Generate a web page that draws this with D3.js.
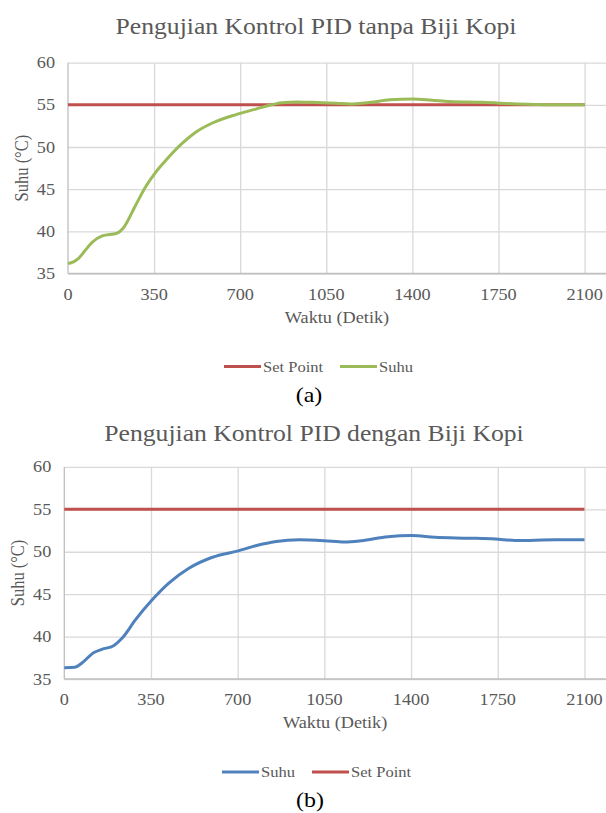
<!DOCTYPE html>
<html>
<head>
<meta charset="utf-8">
<script src="https://cdn.jsdelivr.net/npm/d3@7"></script>
<style>
  body { margin: 0; background: #fff; }
  svg { display: block; }
  text { font-family: "Liberation Serif", "DejaVu Serif", serif; }
</style>
</head>
<body>
<div id="chart"></div>
<script>
// tick values shared by both charts
const xTicks = [0, 350, 700, 1050, 1400, 1750, 2100];
const yTicks = [35, 40, 45, 50, 55, 60];

// set point (both charts)
const setTime = [0, 2100];
const setValue = [55, 55];

// (a) tanpa biji kopi
const timeA = [0, 10, 43, 70, 98, 139, 200, 225, 275, 315, 356, 397, 465, 519, 587, 683, 764, 818, 870, 930, 995, 1090, 1146, 1230, 1308, 1402, 1480, 1552, 1686, 1824, 1958, 2100];
const suhuA = [36.2, 36.25, 36.8, 37.75, 38.7, 39.45, 39.8, 40.4, 43.1, 45.25, 47.0, 48.4, 50.45, 51.75, 52.85, 53.85, 54.5, 54.95, 55.25, 55.35, 55.3, 55.2, 55.1, 55.3, 55.6, 55.7, 55.55, 55.4, 55.3, 55.1, 55.0, 55.0];

// (b) dengan biji kopi
const timeB = [0, 43, 70, 118, 152, 199, 233, 287, 354, 422, 503, 598, 702, 773, 855, 949, 1050, 1131, 1199, 1307, 1402, 1496, 1632, 1740, 1821, 1983, 2100];
const suhuB = [36.33, 36.38, 36.85, 38.1, 38.5, 38.93, 39.8, 41.96, 44.3, 46.3, 48.05, 49.35, 50.1, 50.7, 51.2, 51.4, 51.3, 51.15, 51.3, 51.78, 51.9, 51.7, 51.6, 51.5, 51.33, 51.4, 51.4];

(function () {
  const W = 606, H = 813;
  const SX = 1.14;          // the source figure is stretched sideways a bit
  const xMax = 2187;        // axis runs past the right edge of the picture
  const textColor = "#595959";
  const red = "#C0504D", green = "#9BBB59", blue = "#4F81BD";

  const svg = d3.select("#chart").append("svg")
    .attr("width", W)
    .attr("height", H);

  function label(g, x, y, str, size, opts) {
    opts = opts || {};
    return g.append("text")
      .attr("transform", "translate(" + x + "," + y + ") scale(" + SX + ",1)" + (opts.rotate ? " rotate(-90)" : ""))
      .attr("text-anchor", opts.anchor || "middle")
      .attr("font-size", size)
      .attr("fill", opts.color || textColor)
      .text(str);
  }

  function drawChart(cfg) {
    const g = svg.append("g");

    const x = d3.scaleLinear().domain([0, xMax]).range([cfg.left, W]);
    const y = d3.scaleLinear().domain([35, 60]).range([cfg.bottom, cfg.top]);

    // gridlines
    g.append("g")
      .attr("transform", "translate(" + cfg.left + ",0)")
      .call(d3.axisLeft(y).tickValues(yTicks).tickSize(-(W - cfg.left)).tickFormat(""))
      .call(s => s.select(".domain").remove())
      .selectAll("line").attr("stroke", "#D9D9D9").attr("stroke-width", 1.3);

    g.append("g")
      .attr("transform", "translate(0," + cfg.bottom + ")")
      .call(d3.axisBottom(x).tickValues(xTicks.slice(1)).tickSize(-(cfg.bottom - cfg.top)).tickFormat(""))
      .call(s => s.select(".domain").remove())
      .selectAll("line").attr("stroke", "#D9D9D9").attr("stroke-width", 1.3);

    // axis lines
    g.append("line")
      .attr("x1", cfg.left).attr("x2", cfg.left)
      .attr("y1", cfg.top).attr("y2", cfg.bottom)
      .attr("stroke", "#BFBFBF").attr("stroke-width", 1.3);
    g.append("line")
      .attr("x1", cfg.left).attr("x2", W)
      .attr("y1", cfg.bottom).attr("y2", cfg.bottom)
      .attr("stroke", "#BFBFBF").attr("stroke-width", 1.3);

    // tick labels
    yTicks.forEach(d => label(g, cfg.left - 13, y(d) + 5.5, d, 16, {anchor: "end"}));
    xTicks.forEach(d => label(g, x(d), cfg.bottom + 26, d, 16));

    // titles
    label(g, cfg.titleX, cfg.titleY, cfg.title, 22.5);
    label(g, (cfg.left + W) / 2, cfg.bottom + 49, "Waktu (Detik)", 16);
    label(g, cfg.left - 40, (cfg.top + cfg.bottom) / 2, "Suhu (°C)", 16.5, {rotate: true});

    const line = d3.line()
      .x(d => x(d[0]))
      .y(d => y(d[1]))
      .curve(d3.curveMonotoneX);

    cfg.series.forEach(s => {
      g.append("path")
        .attr("d", line(d3.zip(s.t, s.v)))
        .attr("fill", "none")
        .attr("stroke", s.color)
        .attr("stroke-width", 3)
        .attr("stroke-linejoin", "round");
    });

    // legend
    const ly = cfg.bottom + 93;
    cfg.legend.forEach(item => {
      const s = cfg.series[item.index];
      g.append("line")
        .attr("x1", item.x).attr("x2", item.x + 37)
        .attr("y1", ly).attr("y2", ly)
        .attr("stroke", s.color).attr("stroke-width", 3);
      label(g, item.x + 39, ly + 5, s.name, 14.5, {anchor: "start"});
    });

    label(g, cfg.captionX, cfg.captionY, cfg.caption, 21, {color: "#000"});
  }

  drawChart({
    left: 68, top: 62.7, bottom: 273.5,
    title: "Pengujian Kontrol PID tanpa Biji Kopi", titleX: 316, titleY: 34,
    series: [
      {name: "Set Point", t: setTime, v: setValue, color: red},
      {name: "Suhu", t: timeA, v: suhuA, color: green}
    ],
    legend: [{index: 0, x: 224}, {index: 1, x: 340}],
    caption: "(a)", captionX: 309, captionY: 402
  });

  drawChart({
    left: 64.3, top: 466.9, bottom: 679,
    title: "Pengujian Kontrol PID dengan Biji Kopi", titleX: 314, titleY: 441,
    series: [
      {name: "Suhu", t: timeB, v: suhuB, color: blue},
      {name: "Set Point", t: setTime, v: setValue, color: red}
    ],
    legend: [{index: 0, x: 222}, {index: 1, x: 312}],
    caption: "(b)", captionX: 310, captionY: 807
  });
})();
</script>
</body>
</html>
